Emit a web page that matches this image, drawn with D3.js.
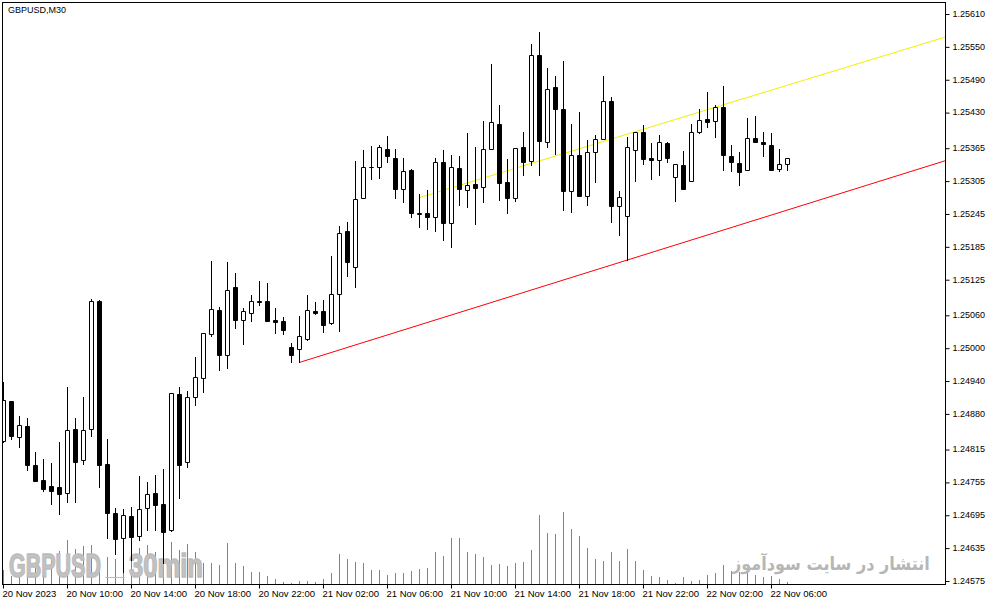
<!DOCTYPE html>
<html>
<head>
<meta charset="utf-8">
<script src="https://cdn.jsdelivr.net/npm/d3@7"></script>
<style>
  body { margin: 0; background: #fff; }
  svg { display: block; }
</style>
</head>
<body>
<div id="chart"></div>
<script>
// GBPUSD M30 candles, 20 Nov 06:00 -> 22 Nov 07:00
var opens = [1.24831,1.24904,1.24838,1.24858,1.24787,1.24759,1.24748,1.24747,1.24735,1.24852,
  1.24795,1.24852,1.25086,1.24788,1.24699,1.24653,1.24694,1.24658,1.24708,1.24736,
  1.24716,1.24668,1.24916,1.24793,1.24911,1.24946,1.25025,1.25069,1.24987,1.25112,
  1.25052,1.25065,1.25086,1.25086,1.25051,1.25049,1.25002,1.24999,1.25017,1.25067,
  1.25067,1.25046,1.25098,1.25213,1.25148,1.25274,1.25330,1.25330,1.25363,1.25348,
  1.25291,1.25325,1.25245,1.25246,1.25239,1.25339,1.25228,1.25328,1.25288,1.25299,
  1.25294,1.25363,1.25410,1.25303,1.25275,1.25367,1.25341,1.25536,1.25377,1.25476,
  1.25436,1.25286,1.25352,1.25277,1.25358,1.25381,1.25452,1.25260,1.25242,1.25362,
  1.25395,1.25347,1.25344,1.25375,1.25313,1.25334,1.25305,1.25394,1.25418,1.25414,
  1.25440,1.25351,1.25338,1.25325,1.25383,1.25376,1.25370,1.25327,1.25336];
var highs = [1.24938,1.24904,1.24876,1.24873,1.24810,1.24798,1.24790,1.24829,1.24929,1.24873,
  1.24911,1.25090,1.25088,1.24835,1.24708,1.24706,1.24710,1.24767,1.24756,1.24769,
  1.24779,1.24918,1.24929,1.24922,1.24984,1.25028,1.25159,1.25075,1.25157,1.25138,
  1.25073,1.25097,1.25123,1.25119,1.25073,1.25057,1.25009,1.25059,1.25097,1.25084,
  1.25088,1.25168,1.25223,1.25230,1.25341,1.25361,1.25369,1.25370,1.25387,1.25363,
  1.25348,1.25327,1.25281,1.25288,1.25348,1.25361,1.25352,1.25350,1.25392,1.25367,
  1.25414,1.25518,1.25443,1.25345,1.25365,1.25394,1.25556,1.25577,1.25511,1.25496,
  1.25524,1.25409,1.25432,1.25380,1.25389,1.25496,1.25458,1.25287,1.25385,1.25395,
  1.25407,1.25374,1.25389,1.25376,1.25336,1.25360,1.25409,1.25436,1.25468,1.25443,
  1.25479,1.25370,1.25358,1.25420,1.25424,1.25395,1.25392,1.25363,1.25347];
var lows = [1.24829,1.24835,1.24820,1.24778,1.24757,1.24740,1.24716,1.24698,1.24720,1.24720,
  1.24789,1.24840,1.24747,1.24654,1.24624,1.24591,1.24613,1.24650,1.24669,1.24669,
  1.24608,1.24666,1.24727,1.24784,1.24897,1.24920,1.25023,1.24960,1.24964,1.25037,
  1.25008,1.25050,1.25078,1.25050,1.25028,1.25025,1.24975,1.24974,1.25015,1.25062,
  1.25030,1.25045,1.25032,1.25131,1.25111,1.25274,1.25308,1.25310,1.25339,1.25275,
  1.25266,1.25239,1.25222,1.25217,1.25213,1.25198,1.25185,1.25262,1.25258,1.25227,
  1.25267,1.25363,1.25271,1.25247,1.25269,1.25316,1.25334,1.25317,1.25368,1.25355,
  1.25253,1.25249,1.25277,1.25262,1.25303,1.25381,1.25231,1.25207,1.25161,1.25305,
  1.25337,1.25308,1.25316,1.25340,1.25269,1.25291,1.25305,1.25392,1.25404,1.25386,
  1.25326,1.25324,1.25298,1.25325,1.25376,1.25351,1.25325,1.25324,1.25325];
var closes = [1.24905,1.24840,1.24860,1.24787,1.24758,1.24743,1.24740,1.24733,1.24850,1.24793,
  1.24850,1.25086,1.24787,1.24700,1.24652,1.24695,1.24656,1.24706,1.24734,1.24714,
  1.24665,1.24918,1.24787,1.24911,1.24947,1.25027,1.25071,1.24988,1.25107,1.25052,
  1.25067,1.25086,1.25085,1.25050,1.25048,1.25034,1.24988,1.25022,1.25069,1.25064,
  1.25043,1.25098,1.25211,1.25157,1.25272,1.25330,1.25331,1.25367,1.25350,1.25290,
  1.25323,1.25246,1.25246,1.25239,1.25339,1.25228,1.25330,1.25290,1.25298,1.25293,
  1.25363,1.25412,1.25302,1.25275,1.25365,1.25339,1.25536,1.25379,1.25474,1.25436,
  1.25286,1.25352,1.25277,1.25359,1.25381,1.25452,1.25260,1.25276,1.25367,1.25395,
  1.25346,1.25344,1.25376,1.25348,1.25336,1.25291,1.25394,1.25416,1.25412,1.25440,
  1.25353,1.25339,1.25322,1.25383,1.25376,1.25372,1.25326,1.25336,1.25347];
// tick volume per bar
var volumes = [560,320,480,450,690,560,960,1320,1760,1390,
  1520,1560,960,1080,1000,1160,1360,1440,1560,1280,
  1120,1680,1360,1610,1280,830,830,760,1640,850,
  720,480,480,320,200,80,40,120,120,80,
  200,440,1200,1000,890,840,560,560,360,440,
  440,520,600,640,1280,1120,1840,1840,1280,1200,
  1080,760,800,720,840,880,1360,2760,2040,2000,
  2880,2200,1920,1440,1000,920,1280,920,1400,920,
  560,320,280,160,40,280,120,160,360,440,
  760,520,480,520,360,280,320,200,80];

var priceTicks = [1.25610,1.25550,1.25490,1.25430,1.25365,1.25305,1.25245,1.25185,1.25125,
  1.25060,1.25000,1.24940,1.24880,1.24815,1.24755,1.24695,1.24635,1.24575];
var timeTickBars = [0,8,16,24,32,40,48,56,64,72,80,88,96];
var timeLabels = ["20 Nov 2023","20 Nov 10:00","20 Nov 14:00","20 Nov 18:00","20 Nov 22:00",
  "21 Nov 02:00","21 Nov 06:00","21 Nov 10:00","21 Nov 14:00","21 Nov 18:00",
  "21 Nov 22:00","22 Nov 02:00","22 Nov 06:00"];

// trend lines: [bar, price] anchors, drawn as rays to the right
var supportLine = [[37, 1.24974], [78, 1.25161]];
var upperLine = [[52, 1.25275], [98, 1.25480]];

var svgWidth = 991;
var svgHeight = 605;
var plot = { left: 3, top: 3, right: 945, bottom: 584 };

var svg = d3.select("#chart")
  .append("svg")
  .attr("width", svgWidth)
  .attr("height", svgHeight)
  .style("background", "#fff");

var x = d3.scaleLinear().domain([0, 98]).range([3.5, 787.5]);
var y = d3.scaleLinear().domain([1.24575, 1.25610]).range([581, 14]);
var yVol = d3.scaleLinear().domain([0, 4000]).range([plot.bottom, plot.bottom - 100]);

svg.append("clipPath").attr("id", "clip")
  .append("rect")
  .attr("x", plot.left).attr("y", plot.top)
  .attr("width", plot.right - plot.left).attr("height", plot.bottom - plot.top);

var g = svg.append("g").attr("clip-path", "url(#clip)");

// volume bars
g.selectAll(".vol")
  .data(volumes)
  .enter()
  .append("line")
  .attr("x1", (d, i) => x(i)).attr("x2", (d, i) => x(i))
  .attr("y1", plot.bottom).attr("y2", d => Math.round(yVol(d)))
  .attr("stroke", "#3cb43c")
  .attr("stroke-width", 1);

// squeeze a text horizontally to a given width, keeping its box honest
function fitText(sel, left, base, width) {
  var w = sel.node().getComputedTextLength();
  sel.attr("transform", `translate(${left},${base}) scale(${width / w},1)`);
}

// watermarks
var wm = g.append("g")
  .style("font-family", "'Liberation Sans', Arial, sans-serif")
  .style("font-weight", "bold")
  .attr("fill", "#c2c2c2")
  .attr("stroke", "#bcbcbc")
  .attr("stroke-width", 1.6)
  .attr("stroke-linejoin", "round");
fitText(wm.append("text").attr("font-size", 34).text("GBPUSD"), 9, 577, 92);
fitText(wm.append("text").attr("font-size", 8).attr("stroke-width", 0.8).text("_"), 107, 577, 16);
fitText(wm.append("text").attr("font-size", 34).text("30min"), 129, 577, 74);

var fa = g.append("text")
  .style("font-family", "'DejaVu Sans', sans-serif")
  .style("font-weight", "bold")
  .attr("font-size", 18)
  .attr("fill", "#b6b6b6")
  .text("انتشار در سایت سودآموز");
fitText(fa, 732, 570, 198);

// trend lines
function ray(pts, color) {
  var slope = (pts[1][1] - pts[0][1]) / (pts[1][0] - pts[0][0]);
  var endBar = x.invert(plot.right);
  g.append("line")
    .attr("x1", x(pts[0][0])).attr("y1", y(pts[0][1]))
    .attr("x2", plot.right).attr("y2", y(pts[0][1] + slope * (endBar - pts[0][0])))
    .attr("stroke", color)
    .attr("stroke-width", 1);
}
ray(upperLine, "#f0f000");
ray(supportLine, "#ff0000");

// candles
var bars = d3.range(opens.length);
var candle = g.selectAll(".candle")
  .data(bars)
  .enter()
  .append("g");

candle.append("line")
  .attr("x1", i => x(i)).attr("x2", i => x(i))
  .attr("y1", i => Math.round(y(highs[i])))
  .attr("y2", i => Math.round(y(lows[i])) + 1)
  .attr("stroke", "#000");

candle.append("path")
  .attr("d", function (i) {
    var top = Math.round(y(Math.max(opens[i], closes[i]))) + 0.5;
    var bot = Math.round(y(Math.min(opens[i], closes[i]))) + 0.5;
    var x0 = x(i) - 2, x1 = x(i) + 2;
    return "M" + x0 + "," + top + "H" + x1 + "V" + bot + "H" + x0 + "Z";
  })
  .attr("fill", i => closes[i] >= opens[i] ? "#fff" : "#000")
  .attr("stroke", "#000")
  .attr("stroke-width", 1);

// frame
svg.append("rect")
  .attr("x", plot.left - 0.5).attr("y", plot.top - 0.5)
  .attr("width", plot.right - plot.left + 1).attr("height", plot.bottom - plot.top + 1)
  .attr("fill", "none")
  .attr("stroke", "#000");

// price axis
var rightAxis = d3.axisRight(y)
  .tickValues(priceTicks)
  .tickFormat(d3.format(".5f"))
  .tickSize(4)
  .tickPadding(3)
  .offset(0);
var ra = svg.append("g")
  .attr("transform", `translate(${plot.right + 0.5}, 0)`)
  .call(rightAxis);
ra.select(".domain").remove();
ra.selectAll(".tick line").attr("transform", "translate(0,0.5)");
ra.selectAll("text")
  .style("font-family", "'Liberation Sans', Arial, sans-serif")
  .style("font-size", "9px")
  .attr("fill", "#000");

// time axis
var bottomAxis = d3.axisBottom(x)
  .tickValues(timeTickBars)
  .tickFormat((d, i) => timeLabels[i])
  .tickSize(4)
  .tickPadding(2)
  .offset(0);
var ba = svg.append("g")
  .attr("transform", `translate(0, ${plot.bottom + 0.5})`)
  .call(bottomAxis);
ba.select(".domain").remove();
ba.selectAll("text")
  .attr("text-anchor", "start")
  .attr("dx", "-1")
  .style("font-family", "'Liberation Sans', Arial, sans-serif")
  .style("font-size", "9.5px")
  .attr("fill", "#000");

// symbol title
svg.append("text")
  .attr("x", 8).attr("y", 13)
  .style("font-family", "'Liberation Sans', Arial, sans-serif")
  .style("font-size", "9px")
  .attr("fill", "#000")
  .text("GBPUSD,M30");
</script>
</body>
</html>
